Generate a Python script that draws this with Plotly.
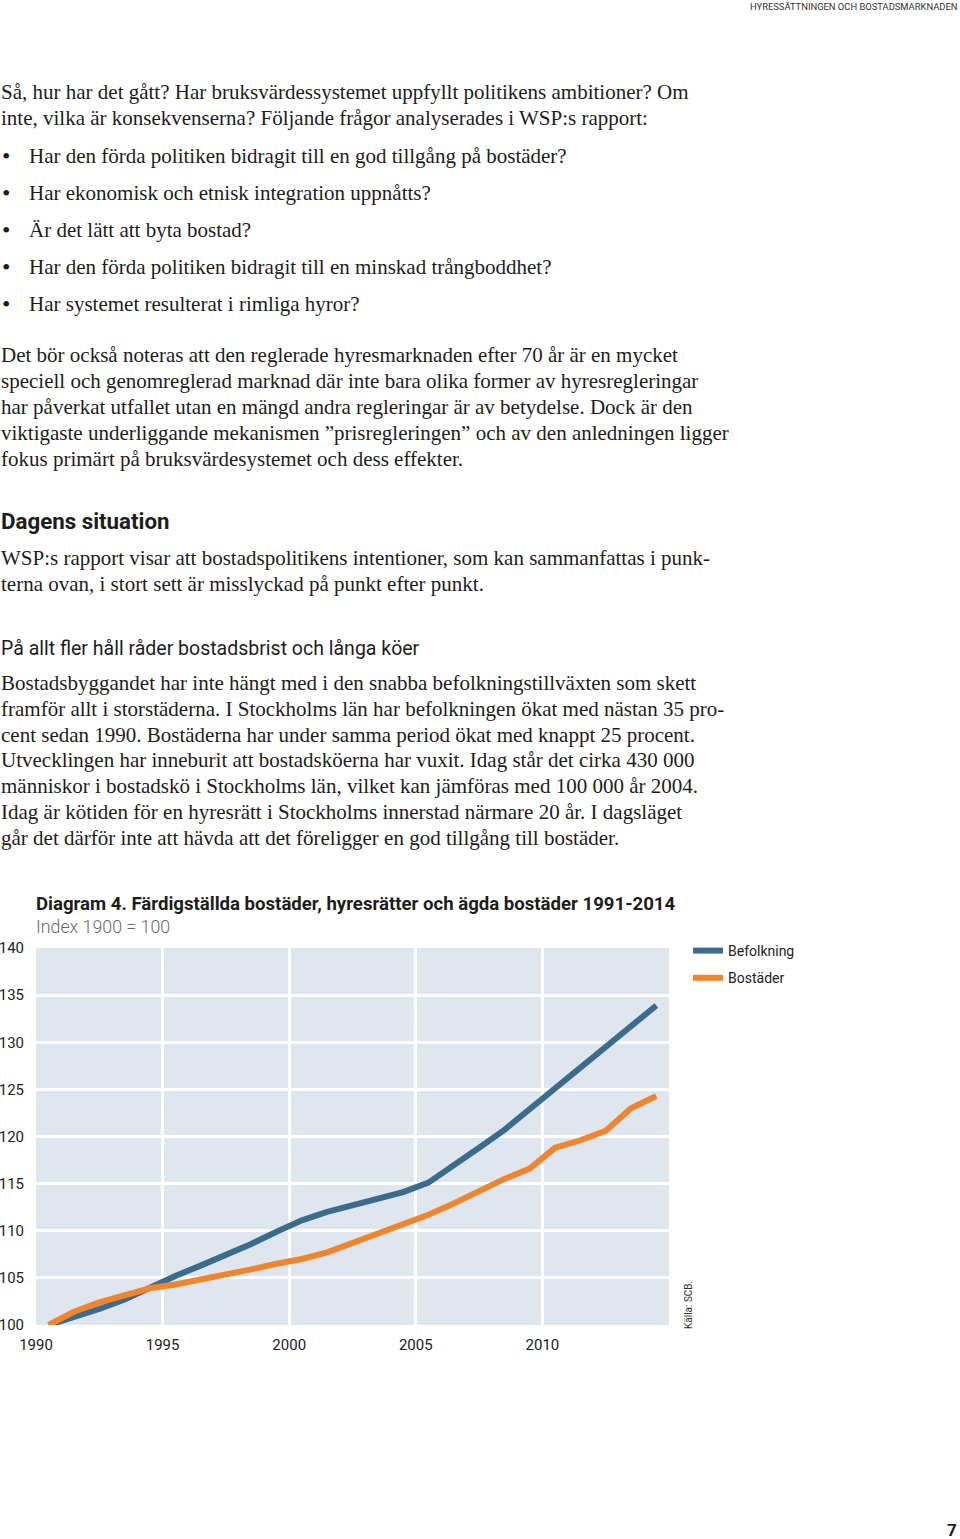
import plotly.graph_objects as go

# ---------------- data ----------------
years = list(range(1990, 2015))
befolkning = [100.0, 100.8, 101.7, 102.7, 104.0, 105.2, 106.3, 107.4, 108.6, 109.9,
              111.1, 112.0, 112.7, 113.4, 114.1, 115.1, 116.9, 118.8, 120.7, 122.9,
              125.2, 127.4, 129.5, 131.7, 133.9]
bostader = [100.0, 101.4, 102.4, 103.2, 103.9, 104.3, 104.8, 105.3, 105.9, 106.5,
            107.0, 107.7, 108.7, 109.7, 110.8, 111.7, 112.9, 114.2, 115.5, 116.6,
            118.8, 119.6, 120.6, 123.0, 124.3]
series_names = ["Befolkning", "Bostäder"]
x_ticks = [1990, 1995, 2000, 2005, 2010]
y_ticks = [100, 105, 110, 115, 120, 125, 130, 135, 140]

header = "HYRESSÄTTNINGEN OCH BOSTADSMARKNADEN"
para1 = ["Så, hur har det gått? Har bruksvärdessystemet uppfyllt politikens ambitioner? Om",
         "inte, vilka är konsekvenserna? Följande frågor analyserades i WSP:s rapport:"]
bullets = ["Har den förda politiken bidragit till en god tillgång på bostäder?",
           "Har ekonomisk och etnisk integration uppnåtts?",
           "Är det lätt att byta bostad?",
           "Har den förda politiken bidragit till en minskad trångboddhet?",
           "Har systemet resulterat i rimliga hyror?"]
para2 = ["Det bör också noteras att den reglerade hyresmarknaden efter 70 år är en mycket",
         "speciell och genomreglerad marknad där inte bara olika former av hyresregleringar",
         "har påverkat utfallet utan en mängd andra regleringar är av betydelse. Dock är den",
         "viktigaste underliggande mekanismen ”prisregleringen” och av den anledningen ligger",
         "fokus primärt på bruksvärdesystemet och dess effekter."]
heading1 = "Dagens situation"
para3 = ["WSP:s rapport visar att bostadspolitikens intentioner, som kan sammanfattas i punk-",
         "terna ovan, i stort sett är misslyckad på punkt efter punkt."]
heading2 = "På allt fler håll råder bostadsbrist och långa köer"
para4 = ["Bostadsbyggandet har inte hängt med i den snabba befolkningstillväxten som skett",
         "framför allt i storstäderna. I Stockholms län har befolkningen ökat med nästan 35 pro-",
         "cent sedan 1990. Bostäderna har under samma period ökat med knappt 25 procent.",
         "Utvecklingen har inneburit att bostadsköerna har vuxit. Idag står det cirka 430 000",
         "människor i bostadskö i Stockholms län, vilket kan jämföras med 100 000 år 2004.",
         "Idag är kötiden för en hyresrätt i Stockholms innerstad närmare 20 år. I dagsläget",
         "går det därför inte att hävda att det föreligger en god tillgång till bostäder."]
chart_title = "Diagram 4. Färdigställda bostäder, hyresrätter och ägda bostäder 1991-2014"
chart_subtitle = "Index 1900 = 100"
source = "Källa: SCB."
page_no = "7"

# ---------------- styling ----------------
W, H = 960, 1539
L, R, T, B = 36, 669, 948, 1325
SERIF = "Liberation Serif, Times New Roman, serif"
SANS = "Roboto, Lato, sans-serif"
TXT = "#1d1d1b"
BLUE = "#3b6b8d"
ORANGE = "#f0852d"

# annual values are drawn at mid-year positions, as in the reference
x_mid = [y + 0.5 for y in years]

fig = go.Figure()
fig.add_trace(go.Scatter(x=x_mid, y=befolkning, mode="lines",
                         name=series_names[0], legendgroup="a",
                         line=dict(color=BLUE, width=6)))
fig.add_trace(go.Scatter(x=x_mid, y=bostader, mode="lines",
                         name=series_names[1], legendgroup="b",
                         line=dict(color=ORANGE, width=6)))


def px(x):
    return (x - L) / (R - L)


def py(y):
    return (B - y) / (B - T)


def add_text(text, x, y, size, family=SERIF, color=TXT, weight="normal",
             xanchor="left", textangle=0):
    fig.add_annotation(text=text, x=px(x), y=py(y), xref="paper", yref="paper",
                       showarrow=False, xanchor=xanchor, yanchor="middle",
                       textangle=textangle,
                       font=dict(size=size, family=family, color=color, weight=weight))


BODY = 21
add_text(header, 959, 6, 9.4, family=SANS, color="#333333", xanchor="right")
for t, y in zip(para1, [92, 118]):
    add_text(t, -1, y, BODY)
for t, y in zip(bullets, [156, 193, 230, 267, 304]):
    add_text("•", 6, y, 24, xanchor="center")
    add_text(t, 27, y, BODY)
for t, y in zip(para2, [355, 381, 407, 433, 459]):
    add_text(t, -1, y, BODY)
add_text(heading1, -1, 521, 22.3, family=SANS, weight="bold")
for t, y in zip(para3, [558, 584]):
    add_text(t, -1, y, BODY)
add_text(heading2, -1, 648, 19.5, family=SANS)
for t, y in zip(para4, [683, 709, 735, 760, 786, 812, 838]):
    add_text(t, -1, y, BODY)
add_text(chart_title, 34, 904, 18.6, family=SANS, weight="bold")
add_text(chart_subtitle, 34, 926, 17.8, family=SANS, color="#6a6a6a", weight=300)
add_text(source, 688, 1305, 10, family=SANS, color="#333333", xanchor="center",
         textangle=-90)
add_text(page_no, 952, 1530, 17, family=SANS, weight="bold", xanchor="center")

fig.update_layout(
    width=W, height=H,
    margin=dict(l=L, r=W - R, t=T, b=H - B, pad=0, autoexpand=False),
    paper_bgcolor="white",
    plot_bgcolor="#e0e6ee",
    font=dict(family=SANS, color=TXT),
    xaxis=dict(range=[1990, 2015], tickvals=x_ticks,
               showgrid=True, gridcolor="white", gridwidth=2.5, zeroline=False,
               showline=False, ticks="outside", ticklen=6,
               tickcolor="rgba(0,0,0,0)", automargin=False,
               tickfont=dict(size=15, family=SANS, color="#222222")),
    yaxis=dict(range=[100, 140], tickvals=y_ticks, showgrid=True, gridcolor="white",
               gridwidth=2.5, zeroline=False, showline=False, ticks="outside",
               ticklen=8, tickcolor="rgba(0,0,0,0)", automargin=False,
               tickfont=dict(size=15, family=SANS, color="#222222")),
    legend=dict(x=px(688), y=py(935), xanchor="left", yanchor="top",
                bgcolor="rgba(0,0,0,0)", tracegroupgap=6,
                font=dict(size=14, family=SANS, color="#222222")),
    showlegend=True,
)

fig.write_html("out.html", config={"displayModeBar": False},
               post_script="document.body.style.margin='0';")
